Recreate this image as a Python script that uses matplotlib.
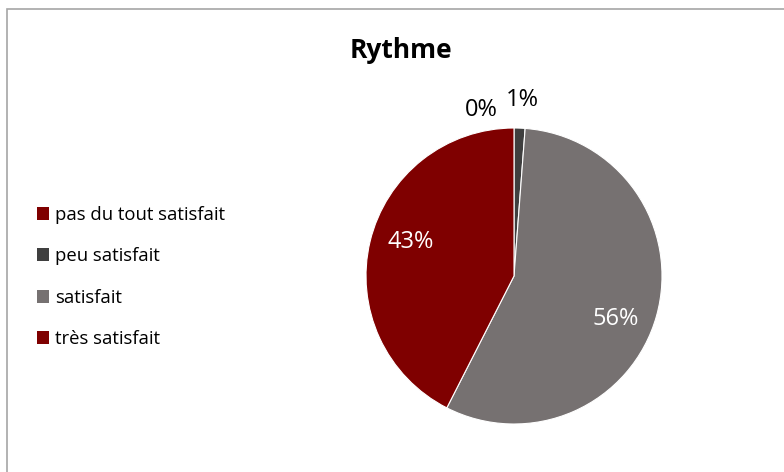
import numpy as np
import matplotlib
matplotlib.use("Agg")
import matplotlib.pyplot as plt
from matplotlib.patches import Rectangle, Patch

plt.rcParams["font.family"] = ["Open Sans", "DejaVu Sans"]

categories = ["pas du tout satisfait", "peu satisfait", "satisfait", "très satisfait"]
values = [0.0, 1.2, 56.3, 42.5]
pct_labels = ["0%", "1%", "56%", "43%"]
colors = ["#7F0000", "#3F3F3F", "#767171", "#7F0000"]
label_colors = ["black", "black", "white", "white"]

fig = plt.figure(figsize=(7.84, 4.72), dpi=100)

# chart frame (cut off on the right and bottom like the original screenshot)
fig.patches.append(Rectangle((7 / 784, -0.1), 1.0, 1 - 9 / 472 + 0.1,
                             transform=fig.transFigure, fill=False,
                             edgecolor="#A6A6A6", linewidth=1.2))

ax = fig.add_axes([366 / 784, 1 - 424 / 472, 296 / 784, 296 / 472])
wedges, _ = ax.pie(values, colors=colors, startangle=90, counterclock=False,
                   radius=1.0, wedgeprops={"linewidth": 0.8, "edgecolor": "white"})
ax.set_xlim(-1, 1)
ax.set_ylim(-1, 1)
ax.set_aspect("equal")

# percentage labels: inside for big slices, outside for the small ones
for i, w in enumerate(wedges):
    mid = (w.theta1 + w.theta2) / 2
    if values[i] > 5:
        # excel puts inside labels a bit clockwise of the slice middle
        a = np.deg2rad(mid - 6)
        x, y = 0.74 * np.cos(a), 0.74 * np.sin(a)
    else:
        a = np.deg2rad(mid)
        x, y = 1.21 * np.cos(a), 1.21 * np.sin(a)
        if values[i] == 0:
            x -= 0.22
            y -= 0.07
        else:
            x += 0.01
    ax.text(x, y - 0.02, pct_labels[i], ha="center", va="center", fontsize=17,
            color=label_colors[i])

fig.text(401 / 784, 1 - 50 / 472, "Rythme", ha="center", va="center",
         fontsize=19, fontweight="bold")

handles = [Patch(facecolor=c, edgecolor="none") for c in colors]
fig.legend(handles, categories, loc="center left",
           bbox_to_anchor=(20 / 784, 1 - 277 / 472), frameon=False,
           fontsize=13.3, handlelength=0.69, handleheight=0.69,
           handletextpad=0.3, labelspacing=1.27)

fig.savefig("out.png", dpi=100)
